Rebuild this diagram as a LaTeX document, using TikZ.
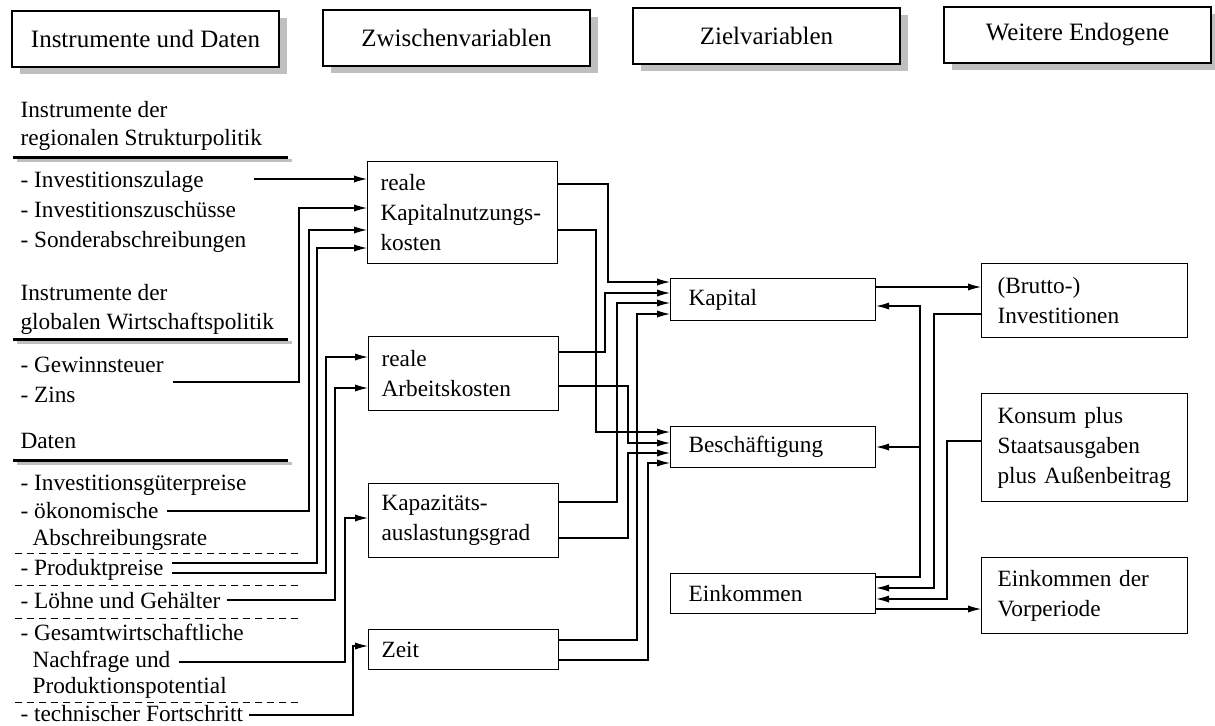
\documentclass[tikz,border=0pt]{standalone}
\usepackage{fontspec}
\setmainfont{Liberation Serif}
\usetikzlibrary{arrows.meta,shadows}
\newcommand{\bodyfont}{\fontsize{11.65pt}{15pt}\selectfont}
\newcommand{\headfont}{\fontsize{12.5pt}{15pt}\selectfont}

\begin{document}
\begin{tikzpicture}[x=0.5pt, y=-0.5pt, line width=0.55pt,
        >={Latex[length=6.5pt,width=3.6pt]},
        kopf/.style={draw, fill=white, minimum width=133.5pt, minimum height=28pt, inner sep=0pt, font=\headfont,
            drop shadow={shadow xshift=4pt, shadow yshift=-3.5pt, fill=black!25, opacity=1}},
        eintrag/.style={anchor=base west, inner sep=0pt, font=\bodyfont},
        kasten/.style={draw, anchor=north west, align=left, inner xsep=6.5pt, inner ysep=0pt, text width=82pt, font=\bodyfont},
        zielk/.style={kasten, inner xsep=9pt, text width=84.5pt},
        endk/.style={kasten, inner xsep=8pt, text width=87pt},
        strich/.style={line width=1.5pt},
        schatten/.style={line width=1.5pt, black!25},
        trenn/.style={line width=0.45pt, dash pattern=on 3.5pt off 2.5pt}]
        \useasboundingbox (0,0) rectangle (1215,725);

        %% Kopfzeile
        \node [kopf] (hinst) at (145.5,39) {Instrumente und Daten};
        \node [kopf] (hzwi) at (456.5,38) {Zwischenvariablen};
        \node [kopf] (hziel) at (766.5,36) {Zielvariablen};
        \node [kopf] (hweit) at (1077.5,35) {Weitere Endogene};

        %% Instrumente und Daten
        \node [eintrag] (regi) at (20,117) {Instrumente der};
        \node [eintrag] (regii) at (20,145) {regionalen Strukturpolitik};
        \draw [schatten] (17,160) -- (292,160);
        \draw [strich] (13,157) -- (288,157);
        \node [eintrag] (izul) at (20,187) {- Investitionszulage};
        \node [eintrag] (izus) at (20,217) {- Investitionszuschüsse};
        \node [eintrag] (sond) at (20,247) {- Sonderabschreibungen};

        \node [eintrag] (globi) at (20,300) {Instrumente der};
        \node [eintrag] (globii) at (20,329) {globalen Wirtschaftspolitik};
        \draw [schatten] (17,342) -- (292,342);
        \draw [strich] (13,339) -- (288,339);
        \node [eintrag] (gew) at (20,372) {- Gewinnsteuer};
        \node [eintrag] (zins) at (20,402) {- Zins};

        \node [eintrag] (dat) at (20,448) {Daten};
        \draw [schatten] (17,463) -- (292,463);
        \draw [strich] (13,460) -- (288,460);
        \node [eintrag] (igp) at (20,490) {- Investitionsgüterpreise};
        \node [eintrag] (oek) at (20,518) {- ökonomische};
        \node [eintrag] (abr) at (32,545) {Abschreibungsrate};
        \draw [trenn] (15,553) -- (302,553);
        \node [eintrag] (prod) at (20,575) {- Produktpreise};
        \draw [trenn] (15,585) -- (302,585);
        \node [eintrag] (lohn) at (20,608) {- Löhne und Gehälter};
        \draw [trenn] (15,618) -- (302,618);
        \node [eintrag] (gesa) at (20,640) {- Gesamtwirtschaftliche};
        \node [eintrag] (nach) at (32,667) {Nachfrage und};
        \node [eintrag] (ppot) at (32,693) {Produktionspotential};
        \draw [trenn] (15,702) -- (302,702);
        \node [eintrag] (tech) at (20,721) {- technischer Fortschritt};

        %% Zwischenvariablen
        \node [kasten, minimum height=51pt] (knk) at (367,161) {reale\\Kapitalnutzungs-\\kosten};
        \node [kasten, minimum height=37pt] (arbk) at (368,336) {reale\\Arbeitskosten};
        \node [kasten, minimum height=37pt] (ausl) at (368,483) {Kapazitäts-\\auslastungsgrad};
        \node [kasten, minimum height=20pt] (zeit) at (368,629) {Zeit};

        %% Zielvariablen
        \node [zielk, minimum height=21pt] (kap) at (670,278) {Kapital};
        \node [zielk, minimum height=20.5pt] (besch) at (670,426) {Beschäftigung};
        \node [zielk, minimum height=20pt] (eink) at (670,573) {Einkommen};

        %% weitere Endogene
        \node [endk, minimum height=37pt] (inv) at (981,263) {(Brutto-)\\Investitionen};
        \node [endk, minimum height=54pt] (kons) at (981,393) {Konsum plus\\Staatsausgaben\\plus Außenbeitrag};
        \node [endk, minimum height=38pt] (vorp) at (981,557) {Einkommen der\\Vorperiode};

        %% Instrumente -> Zwischenvariablen
        \draw [->] ([shift={(50,-8)}]izul.base east) -- (knk.west |- 0,179);
        \draw [->] ([shift={(9,10)}]gew.base east) -| (299,208) -- (knk.west |- 0,208);
        \draw [->] ([shift={(8,-7)}]oek.base east) -| (309,230) -- (knk.west |- 0,230);
        \draw [->] ([shift={(8,-12)}]prod.base east) -| (317,248) -- (knk.west |- 0,248);
        \draw [->] ([shift={(8,-2)}]prod.base east) -| (326,357) -- (arbk.west |- 0,357);
        \draw [->] ([shift={(6,-8)}]lohn.base east) -| (335,388) -- (arbk.west |- 0,388);
        \draw [->] ([shift={(8,-5)}]nach.base east) -| (345,518) -- (ausl.west |- 0,518);
        \draw [->] ([shift={(5,-6)}]tech.base east) -| (353,646) -- (zeit.west |- 0,646);

        %% Zwischenvariablen -> Zielvariablen
        \draw [->] (knk.east |- 0,184) -| (608,282) -- (kap.west |- 0,282);
        \draw [->] (knk.east |- 0,230) -| (596,432) -- (besch.west |- 0,432);
        \draw [->] (arbk.east |- 0,352) -| (605,293) -- (kap.west |- 0,293);
        \draw [->] (arbk.east |- 0,386) -| (628,443) -- (besch.west |- 0,443);
        \draw [->] (ausl.east |- 0,502) -| (617,303) -- (kap.west |- 0,303);
        \draw [->] (ausl.east |- 0,538) -| (628,453) -- (besch.west |- 0,453);
        \draw [->] (zeit.east |- 0,640) -| (637,314) -- (kap.west |- 0,314);
        \draw [->] (zeit.east |- 0,660) -| (648,463) -- (besch.west |- 0,463);

        %% Rueckkopplung
        \draw [->] (kap.east |- 0,287) -- (inv.west |- 0,287);
        \draw [->] (eink.east |- 0,577) -| (920,447) coordinate (abzw) -- (besch.east |- 0,447);
        \draw [->] (abzw) |- (kap.east |- 0,306);
        \draw [->] (inv.west |- 0,314) -| (934,588) -- (eink.east |- 0,588);
        \draw [->] (kons.west |- 0,441) -| (947,599) -- (eink.east |- 0,599);
        \draw [->] (eink.east |- 0,609) -- (vorp.west |- 0,609);

    \end{tikzpicture}
\end{document}
